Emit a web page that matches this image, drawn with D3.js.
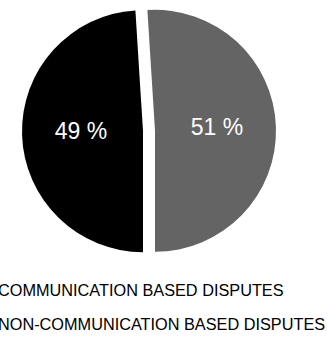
<!DOCTYPE html>
<html>
<head>
<meta charset="utf-8">
<script src="https://cdn.jsdelivr.net/npm/d3@7"></script>
<style>
    body { margin: 0; background: #fff; }
    svg { display: block; }
</style>
</head>
<body>
<div id="chart"></div>
<script>
// Chart data
const categories = ["COMMUNICATION BASED DISPUTES", "NON-COMMUNICATION BASED DISPUTES"]
const values = [49, 51]
const colours = ["#000000", "#646464"]

const WIDTH = 327
const HEIGHT = 338
const CX = 149
const CY = 131
const RADIUS = 121
const EXPLODE = 6

let svg = d3.select("#chart").append("svg")
    .attr("width", WIDTH)
    .attr("height", HEIGHT)

// Pie starts at the bottom and runs clockwise
let pie = d3.pie()
    .sort(null)
    .startAngle(Math.PI)
    .endAngle(3 * Math.PI)
    .value(d => d.value)

let data = categories.map((c, i) => ({name: c, value: values[i], colour: colours[i]}))
let arcs = pie(data)

let arc = d3.arc().innerRadius(0).outerRadius(RADIUS)
let labelArc = d3.arc().innerRadius(124).outerRadius(0)

let g = svg.append("g")
    .attr("transform", "translate(" + CX + "," + CY + ")")

// Offset each slice outward along its middle angle
function offset(d) {
    let mid = (d.startAngle + d.endAngle) / 2
    return [EXPLODE * Math.sin(mid), -EXPLODE * Math.cos(mid)]
}

let slices = g.selectAll("g.slice")
    .data(arcs)
    .enter()
    .append("g")
    .attr("class", "slice")
    .attr("transform", d => "translate(" + offset(d) + ")")

slices.append("path")
    .attr("d", arc)
    .style("fill", d => d.data.colour)

slices.append("text")
    .attr("transform", d => "translate(" + labelArc.centroid(d) + ")")
    .attr("text-anchor", "middle")
    .attr("dy", "0.27em")
    .style("font-family", "Arial, 'Liberation Sans', sans-serif")
    .style("font-size", "23px")
    .style("fill", "#ffffff")
    .text(d => d.data.value + " %")

// Legend (text only, markers fall outside the view)
svg.selectAll("text.legend")
    .data(categories)
    .enter()
    .append("text")
    .attr("class", "legend")
    .attr("x", -2)
    .attr("y", (d, i) => 296 + i * 34)
    .style("font-family", "Arial, 'Liberation Sans', sans-serif")
    .style("font-size", "16.3px")
    .style("fill", "#000000")
    .text(d => d)
</script>
</body>
</html>
